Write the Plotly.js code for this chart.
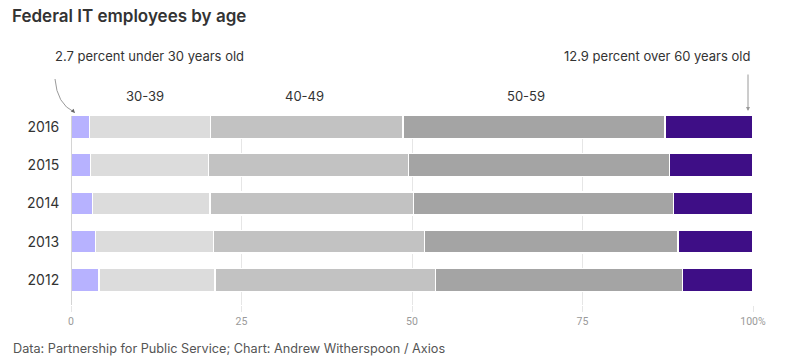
<!DOCTYPE html>
<html>
<head>
<meta charset="utf-8">
<script src="https://cdn.plot.ly/plotly-3.0.1.min.js"></script>
<style>html,body{margin:0;padding:0;background:#fff;}#chart{width:786px;height:364px;}</style>
</head>
<body>
<div id="chart"></div>
<script>
// Data (percent of federal IT employees by age group)
const years = ['2012', '2013', '2014', '2015', '2016'];
const groups = ['Under 30', '30-39', '40-49', '50-59', '60+'];
const under30 = [4.1, 3.6, 3.2, 2.9, 2.7];
const age30_39 = [17.0, 17.3, 17.2, 17.3, 17.8];
const age40_49 = [32.3, 30.9, 29.8, 29.3, 28.2];
const age50_59 = [36.3, 37.2, 38.1, 38.3, 38.4];
const over60 = [10.3, 11.0, 11.7, 12.2, 12.9];
const xTickVals = [0, 25, 50, 75, 100];
const xTickText = ['0', '25', '50', '75', '100%'];

const series = [under30, age30_39, age40_49, age50_59, over60];
const colors = ['#b7b2ff', '#dcdcdc', '#c2c2c2', '#a4a4a4', '#3e0e86'];

const traces = series.map((vals, i) => ({
  type: 'bar',
  orientation: 'h',
  name: groups[i],
  y: years,
  x: vals,
  marker: {color: colors[i], line: {color: '#ffffff', width: 1.3}},
  hoverinfo: 'skip'
}));

const baseFont = 'Inter, Noto Sans, sans-serif';
const narrow = 'Liberation Sans Narrow, Roboto, sans-serif';

const W = 786, H = 364, L = 71, R = 33, T = 116, B = 59;
const pw = W - L - R, ph = H - T - B;
const px = v => (v - L) / pw;
const py = v => (H - B - v) / ph;

const labelFont = {family: baseFont, size: 13, color: '#333'};

const layout = {
  width: W, height: H,
  margin: {l: L, r: R, t: T, b: B},
  paper_bgcolor: '#ffffff', plot_bgcolor: '#ffffff',
  barmode: 'stack',
  bargap: 0.4,
  showlegend: false,
  hovermode: false,
  font: {family: baseFont, color: '#333'},
  title: {
    text: 'Federal IT employees by age',
    xref: 'container', yref: 'container',
    x: 12 / W, xanchor: 'left', y: 1 - 16 / H, yanchor: 'middle',
    font: {family: baseFont, size: 17, color: '#333', weight: 600}
  },
  xaxis: {
    range: [0, 100], fixedrange: true,
    tickvals: xTickVals, ticktext: xTickText,
    showgrid: true, gridcolor: '#e6e6e6', gridwidth: 1,
    zeroline: false, showline: false,
    ticks: 'outside', ticklen: 6, tickcolor: '#e6e6e6',
    tickfont: {family: narrow, size: 10.5, color: '#9a9a9a'}
  },
  yaxis: {
    type: 'category', categoryorder: 'array', categoryarray: years,
    range: [-0.66, 4.29], fixedrange: true,
    showgrid: false, zeroline: false, showline: false,
    ticks: 'outside', ticklen: 8, tickcolor: 'rgba(0,0,0,0)',
    tickfont: {family: baseFont, size: 14, color: '#333'}
  },
  shapes: [
    {type: 'line', xref: 'x', yref: 'paper', x0: 0, x1: 0, y0: 0, y1: 1,
     line: {color: '#a9a9a9', width: 1}},
    {type: 'path', xref: 'paper', yref: 'paper',
     path: `M ${px(55)},${py(79)} Q ${px(57)},${py(104)} ${px(74)},${py(112)}`,
     line: {color: '#9a9a9a', width: 1}}
  ],
  annotations: [
    {xref: 'x', yref: 'paper', x: 10.9, y: py(96), text: '30-39', showarrow: false,
     xanchor: 'center', yanchor: 'middle', font: labelFont},
    {xref: 'x', yref: 'paper', x: 34.2, y: py(96), text: '40-49', showarrow: false,
     xanchor: 'center', yanchor: 'middle', font: labelFont},
    {xref: 'x', yref: 'paper', x: 66.7, y: py(96), text: '50-59', showarrow: false,
     xanchor: 'center', yanchor: 'middle', font: labelFont},
    {xref: 'paper', yref: 'paper', x: px(53), y: py(56), text: '2.7 percent under 30 years old',
     showarrow: false, xanchor: 'left', yanchor: 'middle', font: labelFont},
    {xref: 'paper', yref: 'paper', x: px(752), y: py(56), text: '12.9 percent over 60 years old',
     showarrow: false, xanchor: 'right', yanchor: 'middle', font: labelFont},
    {xref: 'paper', yref: 'paper', x: px(748), y: py(111), text: '', showarrow: true,
     ax: 0, ay: -38, arrowhead: 2, arrowsize: 0.8, arrowwidth: 1, arrowcolor: '#9a9a9a'},
    {xref: 'paper', yref: 'paper', x: px(75), y: py(113), text: '', showarrow: true,
     ax: -3, ay: -3, arrowhead: 2, arrowsize: 0.8, arrowwidth: 1, arrowcolor: '#666'},
    {xref: 'paper', yref: 'paper', x: px(11), y: py(348), text: 'Data: Partnership for Public Service; Chart: Andrew Witherspoon / Axios',
     showarrow: false, xanchor: 'left', yanchor: 'middle', font: {family: baseFont, size: 12.7, color: '#555'}}
  ]
};

Plotly.newPlot('chart', traces, layout, {displayModeBar: false, staticPlot: true});
</script>
</body>
</html>
